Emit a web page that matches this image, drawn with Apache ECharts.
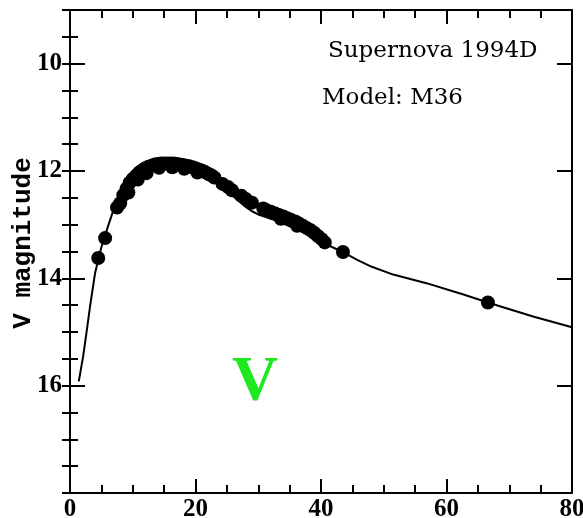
<!DOCTYPE html>
<html>
<head>
<meta charset="utf-8">
<script src="https://cdn.jsdelivr.net/npm/echarts@6/dist/echarts.min.js"></script>
<style>
html,body{margin:0;padding:0;background:#fff;}
#c{width:583px;height:518px;}
</style>
</head>
<body>
<div id="c"></div>
<script>
// Observed V magnitudes of SN 1994D (days, magnitude)
var obsDays = [4.5,5.6,7.5,8.0,8.5,9.0,9.3,9.5,10.0,10.5,10.8,11.0,11.5,12.0,12.2,12.5,13.0,13.5,14.0,14.2,14.5,15.0,15.5,16.0,16.3,16.5,17.0,17.5,18.0,18.2,18.5,19.0,19.5,20.0,20.3,20.5,21.0,21.5,22.0,22.5,23.0,24.3,25.2,25.8,27.3,28.0,29.0,30.8,31.3,32.0,32.7,33.3,33.6,34.0,34.6,35.2,35.9,36.2,36.5,37.1,37.7,38.3,38.9,39.5,40.1,40.6,43.5,66.6];
var obsMag  = [13.62,13.25,12.68,12.60,12.45,12.33,12.40,12.22,12.15,12.09,12.16,12.03,11.99,11.95,12.04,11.92,11.90,11.88,11.87,11.94,11.86,11.86,11.86,11.86,11.93,11.86,11.87,11.88,11.89,11.96,11.90,11.91,11.93,11.95,12.03,11.97,11.99,12.02,12.05,12.08,12.12,12.24,12.30,12.36,12.46,12.52,12.59,12.70,12.73,12.76,12.79,12.82,12.89,12.85,12.88,12.91,12.94,13.02,12.98,13.02,13.06,13.10,13.15,13.21,13.27,13.33,13.51,14.45];
// Model M36 light curve
var modelDays = [1.4,2.1,2.7,3.2,4.0,5.0,6.0,7.0,8.0,9.0,10.0,11.0,12.0,13.0,14.0,15.0,16.0,17.0,18.0,19.0,20.0,21.0,22.0,23.0,24.0,25.0,26.0,27.0,28.0,29.0,30.0,31.0,32.0,33.0,34.0,35.0,36.0,37.0,38.0,39.0,40.0,41.0,42.0,43.5,45.7,48.0,51.5,56.8,62.7,66.6,68.5,73.8,80.0];
var modelMag  = [15.92,15.45,14.95,14.52,13.90,13.42,13.05,12.70,12.45,12.25,12.10,12.00,11.94,11.90,11.87,11.86,11.86,11.87,11.89,11.92,11.96,12.01,12.07,12.15,12.25,12.36,12.47,12.57,12.67,12.75,12.81,12.85,12.89,12.93,12.98,13.03,13.08,13.13,13.19,13.25,13.31,13.37,13.43,13.51,13.65,13.78,13.93,14.09,14.30,14.45,14.52,14.71,14.91];
var yMajorTicks = [10,12,14,16];
var xMin = 0, xMax = 80, xStep = 20;
var yMin = 9, yMax = 18;

var obsData = obsDays.map(function(d,i){return [d, obsMag[i]];});
var modelData = modelDays.map(function(d,i){return [d, modelMag[i]];});

var chart = echarts.init(document.getElementById('c'), null, {renderer:'canvas'});
var blk = '#000';
var labelFont = {fontFamily:'Liberation Serif', fontWeight:'bold', fontSize:25, color:blk};
function xAx(pos, showLabel){
  return {
    type:'value', min:xMin, max:xMax, interval:xStep, position:pos,
    axisLine:{show:true, onZero:false, lineStyle:{color:blk, width:2}},
    axisTick:{show:true, inside:true, length:14, lineStyle:{color:blk, width:2}},
    minorTick:{show:true, splitNumber:4, length:8, lineStyle:{color:blk, width:2}},
    splitLine:{show:false}, minorSplitLine:{show:false},
    axisLabel:Object.assign({show:showLabel, margin:4}, labelFont)
  };
}
function yMajor(pos, showLabel){
  return {
    type:'value', inverse:true, min:yMin, max:yMax, interval:0.5, position:pos,
    axisLine:{show:true, onZero:false, lineStyle:{color:blk, width:2}},
    axisTick:{show:true, inside:true, length:15, customValues:yMajorTicks, lineStyle:{color:blk, width:2}},
    splitLine:{show:false},
    axisLabel:Object.assign({show:showLabel, margin:8, customValues:yMajorTicks}, labelFont)
  };
}
function yMinor(pos){
  return {
    type:'value', inverse:true, min:yMin, max:yMax, interval:0.5, position:pos,
    axisLine:{show:false},
    axisTick:{show:true, inside:true, length:8, lineStyle:{color:blk, width:2}},
    splitLine:{show:false},
    axisLabel:{show:false}
  };
}

chart.setOption({
  animation:false,
  backgroundColor:'#fff',
  grid:{left:70, right:11, top:10, bottom:25, containLabel:false, outerBoundsMode:'none'},
  xAxis:[xAx('bottom', true), xAx('top', false)],
  yAxis:[yMajor('left', true), yMinor('left'), yMajor('right', false), yMinor('right')],
  series:[
    {type:'line', name:'Model M36', data:modelData, xAxisIndex:0, yAxisIndex:0,
     showSymbol:false, symbol:'none', lineStyle:{color:blk, width:2}, z:2},
    {type:'scatter', name:'SN 1994D', data:obsData, xAxisIndex:0, yAxisIndex:0,
     symbol:'circle', symbolSize:14, itemStyle:{color:blk, opacity:1}, z:3}
  ],
  graphic:[
    {type:'text', left:328, top:40, style:{text:'Supernova 1994D', fontFamily:'DejaVu Serif', fontSize:23, fill:blk}},
    {type:'text', left:322, top:87, style:{text:'Model: M36', fontFamily:'DejaVu Serif', fontSize:23, fill:blk}},
    {type:'text', x:255, y:383, style:{text:'V', fontFamily:'Liberation Serif', fontWeight:'bold', fontSize:64, fill:'#1fe81f', align:'center', verticalAlign:'middle'}},
    {type:'text', x:23, y:243, rotation:Math.PI/2, style:{text:'V magnitude', fontFamily:'Liberation Mono', fontWeight:'bold', fontSize:26, fill:blk, align:'center', verticalAlign:'middle'}}
  ]
});
</script>
</body>
</html>
